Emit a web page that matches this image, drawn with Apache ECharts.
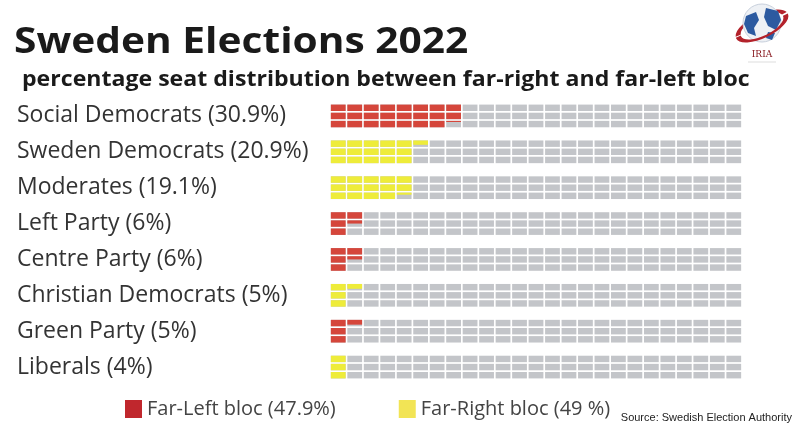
<!DOCTYPE html>
<html><head><meta charset="utf-8">
<script src="https://cdn.jsdelivr.net/npm/echarts@6/dist/echarts.min.js"></script>
<style>html,body{margin:0;padding:0;background:#fff}#c{width:800px;height:436px}</style>
</head><body><div id="c"></div>
<script>
// ---- data ----
const parties = ['Social Democrats','Sweden Democrats','Moderates','Left Party','Centre Party','Christian Democrats','Green Party','Liberals'];
const shares = [30.9, 20.9, 19.1, 6, 6, 5, 5, 4];
const blocs = ['left','right','right','left','left','right','left','right'];
const blocKeys = ['left','right'];
const blocNames = ['Far-Left bloc (47.9%)', 'Far-Right bloc (49 %)'];
const waffleCols = 25, waffleRows = 3;   // 75 cells = 100 %

// ---- styles ----
const cellColors = {left: '#d5463b', right: '#eeec3a'};
const legendColors = {left: '#c0272d', right: '#f2e455'};
const gray = '#c3c5c9';

const labels = parties.map((p, i) => p + ' (' + shares[i] + '%)');
const chart = echarts.init(document.getElementById('c'), null, {renderer: 'canvas'});

function renderItem(params, api) {
  const share = api.value(0);
  const cat = api.value(1);
  const p0 = api.coord([0, cat]);
  const p1 = api.coord([100, cat]);
  const band = api.size([0, 1])[1];
  const blockH = band * 0.68;
  const colW = (p1[0] - p0[0]) / waffleCols;
  const cellH = blockH / waffleRows;
  const top = p0[1] - blockH / 2;
  const gap = 1.7;
  const per = 100 / (waffleCols * waffleRows);
  const color = api.visual('color');
  const children = [];
  for (let c = 0; c < waffleCols; c++) {
    for (let r = 0; r < waffleRows; r++) {
      const k = c * waffleRows + r;
      const x = p0[0] + c * colW + gap / 2;
      const y = top + r * cellH + gap / 2;
      const w = colW - gap, h = cellH - gap;
      const f = Math.max(0, Math.min(1, (share - k * per) / per));
      children.push({type: 'rect', shape: {x, y, width: w, height: h}, style: {fill: gray}});
      if (f > 0) children.push({type: 'rect', shape: {x, y, width: w, height: h * f}, style: {fill: color}});
    }
  }
  return {type: 'group', children};
}

const series = blocKeys.map((b, bi) => ({
  type: 'custom',
  name: blocNames[bi],
  renderItem,
  itemStyle: {color: cellColors[b]},
  encode: {x: 0, y: 1},
  data: parties.map((p, i) => blocs[i] === b ? [shares[i], i] : null).filter(d => d)
}));

const orbit = (start, end) => ({
  type: 'arc', shape: {cx: 0, cy: 0, r: 26, startAngle: start, endAngle: end},
  style: {stroke: '#b3222b', lineWidth: 3.5, fill: null, strokeNoScale: true}
});

chart.setOption({
  animation: false,
  backgroundColor: '#fff',
  grid: {left: 330, right: 58, top: 98, height: 287},
  xAxis: {type: 'value', min: 0, max: 100, show: false},
  yAxis: {
    type: 'category', data: labels, inverse: true,
    axisLine: {show: false}, axisTick: {show: false}, splitLine: {show: false},
    axisLabel: {align: 'left', margin: 313, fontSize: 23, color: '#333', fontFamily: 'Open Sans'}
  },
  legend: {
    left: 120, top: 394, itemWidth: 17, itemHeight: 18, itemGap: 63,
    textStyle: {fontSize: 20, color: '#444', fontFamily: 'Open Sans'},
    data: blocKeys.map((b, bi) => ({name: blocNames[bi], icon: 'rect', itemStyle: {color: legendColors[b]}}))
  },
  graphic: [
    {type: 'text', left: 14, top: 25, scaleX: 1.13, style: {text: 'Sweden Elections 2022', font: 'bold 36px "Open Sans"', fill: '#1a1a1a'}},
    {type: 'text', left: 22, top: 70, scaleX: 1.1, style: {text: 'percentage seat distribution between far-right and far-left bloc', font: 'bold 21px "Open Sans"', fill: '#1a1a1a'}},
    {type: 'text', right: 8, top: 412, style: {text: 'Source: Swedish Election Authority', font: '11px "Liberation Sans Narrow", "Liberation Sans", Arial', fill: '#222'}},
    // logo
    {type: 'group', x: 762, y: 26, rotation: 0.45, scaleY: 0.42, children: [orbit(Math.PI * 1.05, Math.PI * 1.95)]},
    {type: 'circle', shape: {cx: 762, cy: 23, r: 19}, style: {fill: '#eef1f5', stroke: '#c8d0dc', lineWidth: 1}},
    {type: 'polygon', shape: {points: [[746, 16], [756, 12], [759, 20], [754, 28], [756, 36], [748, 33], [744, 24]]}, style: {fill: '#2c5aa0'}},
    {type: 'polygon', shape: {points: [[766, 8], [778, 11], [781, 20], [776, 30], [768, 26], [764, 17]]}, style: {fill: '#2c5aa0'}},
    {type: 'polygon', shape: {points: [[768, 32], [775, 33], [772, 40], [766, 38]]}, style: {fill: '#2c5aa0'}},
    {type: 'group', x: 762, y: 26, rotation: 0.45, scaleY: 0.42, children: [orbit(Math.PI * 0.0, Math.PI * 1.02)]},
    {type: 'text', x: 762, y: 55, style: {text: 'IRIA', font: '9px "DejaVu Serif", serif', fill: '#8a1c22', align: 'center', verticalAlign: 'middle'}},
    {type: 'line', shape: {x1: 748, y1: 62, x2: 776, y2: 62}, style: {stroke: '#dddddd', lineWidth: 1}}
  ],
  series
});
</script></body></html>
